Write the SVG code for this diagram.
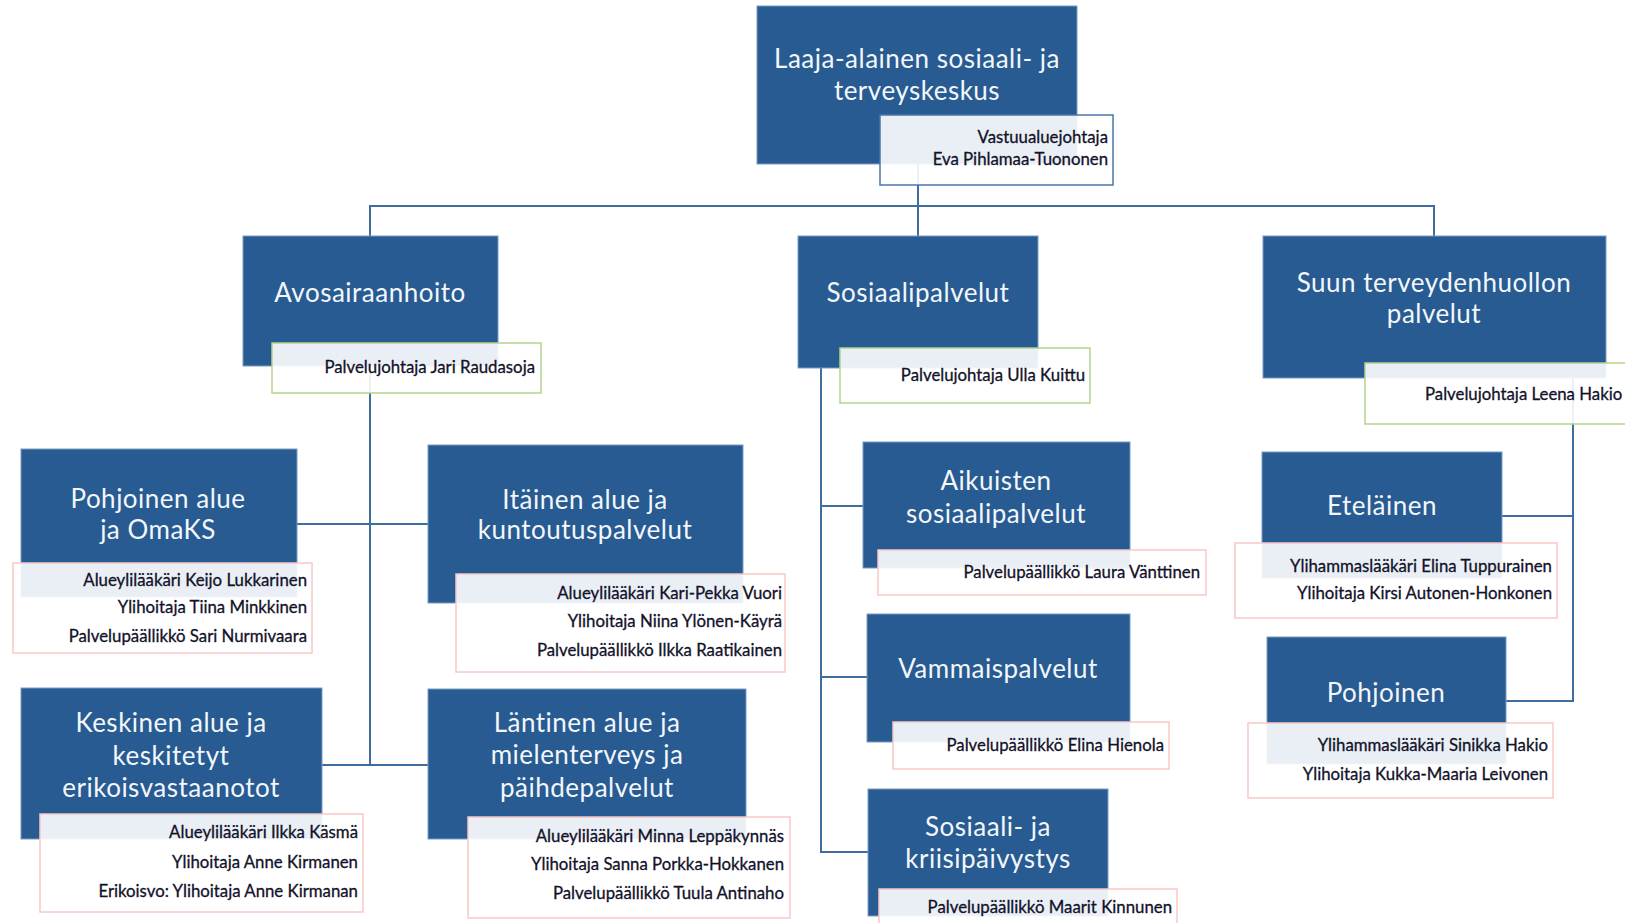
<svg xmlns="http://www.w3.org/2000/svg" width="1625" height="923" viewBox="0 0 1625 923">
<style>
.box{fill:#275B91;stroke:#7C9CC4;stroke-width:1}
.lbl{fill:#FFFFFF;fill-opacity:0.9;stroke-width:1.5}
.lb{stroke:#4A76AA}
.lg{stroke:#B3D38E}
.lp{stroke:#F8C8C8}
.t{font-family:Lato,"Open Sans",sans-serif;font-size:26px;letter-spacing:0.5px;fill:#F3F6FA;text-anchor:middle}
.s{font-family:Lato,"Open Sans",sans-serif;font-size:16.8px;fill:#12122A;stroke:#12122A;stroke-width:0.3;text-anchor:end}
.c{fill:none;stroke:#3F6D9E;stroke-width:2}
</style>
<rect width="1625" height="923" fill="#FFFFFF"/>
<g id="connectors">
<path class="c" d="M918 160V206M370 236V206H1434V236M918 206V236"/>
<path class="c" d="M370 360V765M297 524H428M322 765H428"/>
<path class="c" d="M821 360V852H868M821 506H863M821 677H867"/>
<path class="c" d="M1573 370V701H1506M1502 516H1573"/>
</g>
<g id="n-top">
<rect class="box" x="757" y="6" width="320" height="158"/>
<text class="t" x="917" y="68">Laaja-alainen sosiaali- ja</text>
<text class="t" x="917" y="100">terveyskeskus</text>
<rect class="lbl lb" x="880" y="115" width="233" height="70"/>
<text class="s" x="1108" y="143">Vastuualuejohtaja</text>
<text class="s" x="1108" y="165">Eva Pihlamaa-Tuononen</text>
</g>
<g id="n-avos">
<rect class="box" x="243" y="236" width="255" height="130"/>
<text class="t" x="370" y="302">Avosairaanhoito</text>
<rect class="lbl lg" x="272" y="343" width="269" height="50"/>
<text class="s" x="535" y="373">Palvelujohtaja Jari Raudasoja</text>
</g>
<g id="n-sos">
<rect class="box" x="798" y="236" width="240" height="132"/>
<text class="t" x="918" y="302">Sosiaalipalvelut</text>
<rect class="lbl lg" x="840" y="348" width="250" height="55"/>
<text class="s" x="1085" y="381">Palvelujohtaja Ulla Kuittu</text>
</g>
<g id="n-suun">
<rect class="box" x="1263" y="236" width="343" height="142"/>
<text class="t" x="1434" y="292">Suun terveydenhuollon</text>
<text class="t" x="1434" y="323">palvelut</text>
<rect class="lbl lg" x="1365" y="363" width="275" height="61"/>
<text class="s" x="1425" y="400" style="text-anchor:start">Palvelujohtaja Leena Hakio</text>
</g>
<g id="n-pohj-alue">
<rect class="box" x="21" y="449" width="276" height="148"/>
<text class="t" x="158" y="508">Pohjoinen alue</text>
<text class="t" x="158" y="539">ja OmaKS</text>
<rect class="lbl lp" x="13" y="563" width="299" height="90"/>
<text class="s" x="307" y="586">Alueylilääkäri Keijo Lukkarinen</text>
<text class="s" x="307" y="613">Ylihoitaja Tiina Minkkinen</text>
<text class="s" x="307" y="642">Palvelupäällikkö Sari Nurmivaara</text>
</g>
<g id="n-itainen">
<rect class="box" x="428" y="445" width="315" height="158"/>
<text class="t" x="585" y="509">Itäinen alue ja</text>
<text class="t" x="585" y="539">kuntoutuspalvelut</text>
<rect class="lbl lp" x="456" y="574" width="329" height="98"/>
<text class="s" x="782" y="599">Alueylilääkäri Kari-Pekka Vuori</text>
<text class="s" x="782" y="627">Ylihoitaja Niina Ylönen-Käyrä</text>
<text class="s" x="782" y="656">Palvelupäällikkö Ilkka Raatikainen</text>
</g>
<g id="n-keskinen">
<rect class="box" x="21" y="688" width="301" height="151"/>
<text class="t" x="171" y="732">Keskinen alue ja</text>
<text class="t" x="171" y="765">keskitetyt</text>
<text class="t" x="171" y="797">erikoisvastaanotot</text>
<rect class="lbl lp" x="40" y="814" width="323" height="98"/>
<text class="s" x="358" y="838">Alueylilääkäri Ilkka Käsmä</text>
<text class="s" x="358" y="868">Ylihoitaja Anne Kirmanen</text>
<text class="s" x="358" y="897">Erikoisvo: Ylihoitaja Anne Kirmanan</text>
</g>
<g id="n-lantinen">
<rect class="box" x="428" y="689" width="318" height="150"/>
<text class="t" x="587" y="732">Läntinen alue ja</text>
<text class="t" x="587" y="764">mielenterveys ja</text>
<text class="t" x="587" y="797">päihdepalvelut</text>
<rect class="lbl lp" x="468" y="817" width="322" height="101"/>
<text class="s" x="784" y="842">Alueylilääkäri Minna Leppäkynnäs</text>
<text class="s" x="784" y="870">Ylihoitaja Sanna Porkka-Hokkanen</text>
<text class="s" x="784" y="899">Palvelupäällikkö Tuula Antinaho</text>
</g>
<g id="n-aikuisten">
<rect class="box" x="863" y="442" width="267" height="126"/>
<text class="t" x="996" y="490">Aikuisten</text>
<text class="t" x="996" y="523">sosiaalipalvelut</text>
<rect class="lbl lp" x="878" y="550" width="328" height="45"/>
<text class="s" x="1200" y="578">Palvelupäällikkö Laura Vänttinen</text>
</g>
<g id="n-vammais">
<rect class="box" x="867" y="614" width="263" height="128"/>
<text class="t" x="998" y="678">Vammaispalvelut</text>
<rect class="lbl lp" x="893" y="722" width="276" height="47"/>
<text class="s" x="1164" y="751">Palvelupäällikkö Elina Hienola</text>
</g>
<g id="n-kriisi">
<rect class="box" x="868" y="789" width="240" height="127"/>
<text class="t" x="988" y="836">Sosiaali- ja</text>
<text class="t" x="988" y="868">kriisipäivystys</text>
<rect class="lbl lp" x="879" y="889" width="298" height="40"/>
<text class="s" x="1172" y="913">Palvelupäällikkö Maarit Kinnunen</text>
</g>
<g id="n-etelainen">
<rect class="box" x="1262" y="452" width="240" height="126"/>
<text class="t" x="1382" y="515">Eteläinen</text>
<rect class="lbl lp" x="1235" y="543" width="322" height="75"/>
<text class="s" x="1552" y="572">Ylihammaslääkäri Elina Tuppurainen</text>
<text class="s" x="1552" y="599">Ylihoitaja Kirsi Autonen-Honkonen</text>
</g>
<g id="n-pohjoinen">
<rect class="box" x="1267" y="637" width="239" height="127"/>
<text class="t" x="1386" y="702">Pohjoinen</text>
<rect class="lbl lp" x="1248" y="723" width="305" height="75"/>
<text class="s" x="1548" y="751">Ylihammaslääkäri Sinikka Hakio</text>
<text class="s" x="1548" y="780">Ylihoitaja Kukka-Maaria Leivonen</text>
</g>
</svg>
